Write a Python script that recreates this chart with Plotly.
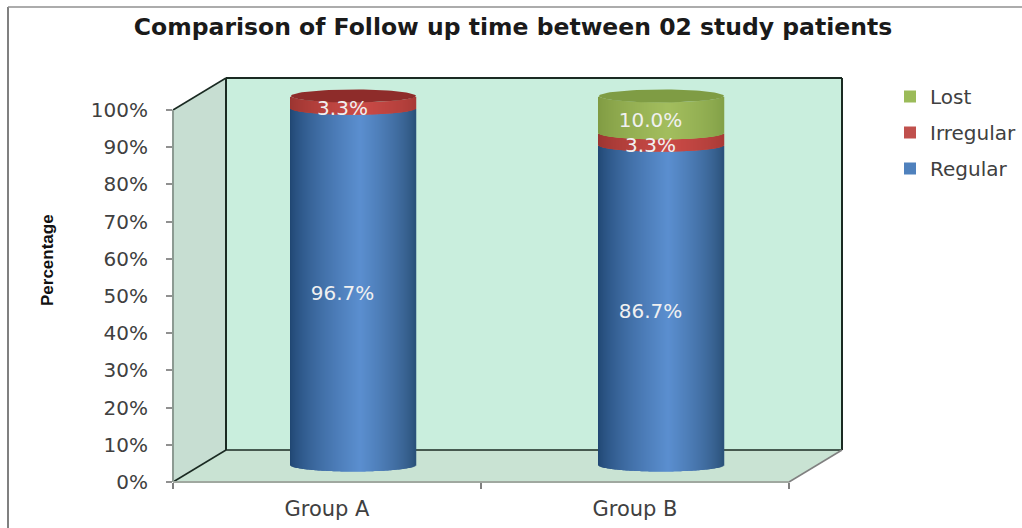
import numpy as np
import plotly.graph_objects as go

# Chart data
groups = ["Group A", "Group B"]
regular = [96.7, 86.7]
irregular = [3.3, 3.3]
lost = [0.0, 10.0]
tick_values = [0, 10, 20, 30, 40, 50, 60, 70, 80, 90, 100]
title_text = "Comparison of Follow up time between 02 study patients"

series = [
    ("Regular", regular, "#4F81BD", "#1F4571", "#5B8FD0", "#2A5078"),
    ("Irregular", irregular, "#C0504D", "#9A3430", "#CB4B47", "#A83A36"),
    ("Lost", lost, "#9BBB59", "#7F9A42", "#A3BE5E", "#82A047"),
]
cap_colors = {"Regular": "#3A6A9E", "Irregular": "#8E2C2A", "Lost": "#7F9C44"}

# Pixel geometry of the plot box
W, H = 1022, 528
LEFT, RIGHT, TOP, BOTTOM = 173, 842, 78, 482
PX_PER_GROUP = 308
PX_PER_PCT = 3.72
DEPTH_X, DEPTH_Y = 53, 32

x_low = -0.5
x_high = x_low + (RIGHT - LEFT) / PX_PER_GROUP
y_low = 0.0
y_high = (BOTTOM - TOP) / PX_PER_PCT

# Cylinders sit on a scale shifted to mid-depth of the floor
CYL_PX_PER_PCT = 3.69
CYL_ZERO_PX = 465
CYL_SHIFT = 26.5 / PX_PER_GROUP
CYL_HALF_W = 62.5 / PX_PER_GROUP
CAP_HALF_H = 6.5 / CYL_PX_PER_PCT
LABEL_SHIFT = 11 / PX_PER_GROUP
LABEL_DROP = 1.5 / CYL_PX_PER_PCT
N_STRIPS = 125

u = np.linspace(-1, 1, N_STRIPS, endpoint=False) + 1 / N_STRIPS
arc = CAP_HALF_H * np.sqrt(np.clip(1 - u**2, 0, 1))


def hex_rgb(c):
    return np.array([int(c[i:i + 2], 16) for i in (1, 3, 5)], float)


def shade(left, mid, right, t):
    """Colour across the cylinder; t runs from -1 (left edge) to 1 (right edge)."""
    peak = 0.12
    if t < peak:
        k = ((t + 1) / (1 + peak)) ** 0.7
        c = hex_rgb(left) * (1 - k) + hex_rgb(mid) * k
    else:
        k = ((1 - t) / (1 - peak)) ** 0.7
        c = hex_rgb(right) * (1 - k) + hex_rgb(mid) * k
    return "rgb(%d,%d,%d)" % tuple(c)


fig = go.Figure()

# Cylinder bodies: vertical strips with curved ends, stacked from the values
totals = [0.0] * len(groups)
for name, values, legend_color, c_left, c_mid, c_right in series:
    xs, bases, heights, colors = [], [], [], []
    for g, v in enumerate(values):
        if v <= 0:
            continue
        for ui, ai in zip(u, arc):
            xs.append(g + ui * CYL_HALF_W)
            bases.append(totals[g] - ai)
            heights.append(v)
            colors.append(shade(c_left, c_mid, c_right, ui))
    fig.add_trace(go.Bar(
        x=xs, y=heights, base=bases, width=2 * CYL_HALF_W / N_STRIPS * 1.5,
        marker=dict(color=colors, line=dict(width=0)),
        xaxis="x2", yaxis="y2", showlegend=False, hoverinfo="skip",
    ))
    totals = [t + v for t, v in zip(totals, values)]

# Top caps
theta = np.linspace(0, 2 * np.pi, 90)
for g, total in enumerate(totals):
    top_series = [s[0] for s in series if s[1][g] > 0][-1]
    fig.add_trace(go.Scatter(
        x=g + CYL_HALF_W * np.cos(theta),
        y=total + CAP_HALF_H * np.sin(theta),
        mode="lines", fill="toself", fillcolor=cap_colors[top_series],
        line=dict(width=0, color=cap_colors[top_series]),
        xaxis="x2", yaxis="y2", showlegend=False, hoverinfo="skip",
    ))

# Value labels at the centre of each segment's front face
label_x, label_y, label_text = [], [], []
running = [0.0] * len(groups)
for name, values, *_ in series:
    for g, v in enumerate(values):
        if v > 0:
            label_x.append(g - LABEL_SHIFT)
            label_y.append(running[g] + v / 2 - CAP_HALF_H - LABEL_DROP)
            label_text.append(f"{v:.1f}%")
        running[g] += v
fig.add_trace(go.Scatter(
    x=label_x, y=label_y, text=label_text, mode="text",
    textposition="middle center",
    textfont=dict(family="DejaVu Sans", size=20, color="#F0F0F0"),
    xaxis="x2", yaxis="y2", showlegend=False, hoverinfo="skip",
))

# Legend entries, listed top to bottom
for name, values, legend_color, *_ in reversed(series):
    fig.add_trace(go.Bar(
        x=[None], y=[None], name=name, legendgroup=name,
        marker=dict(color=legend_color, line=dict(width=0)),
    ))


def px_x(p):
    return (p - LEFT) / (RIGHT - LEFT)


def px_y(p):
    return (BOTTOM - p) / (BOTTOM - TOP)


def poly(points, fill):
    path = "M" + " L".join(f"{px_x(a):.5f},{px_y(b):.5f}" for a, b in points) + " Z"
    return dict(type="path", xref="paper", yref="paper", path=path,
                fillcolor=fill, line=dict(width=0), layer="below")


def seg(a, b, c, d, color, width=2):
    return dict(type="line", xref="paper", yref="paper", layer="below",
                x0=px_x(a), y0=px_y(b), x1=px_x(c), y1=px_y(d),
                line=dict(color=color, width=width))


FRONT_TOP = BOTTOM - 100 * PX_PER_PCT
BACK_L, BACK_B = LEFT + DEPTH_X, BOTTOM - DEPTH_Y
FRONT_R = RIGHT - DEPTH_X

shapes = [
    # Walls and floor
    poly([(BACK_L, TOP), (RIGHT, TOP), (RIGHT, BACK_B), (BACK_L, BACK_B)], "#C9EEDD"),
    poly([(LEFT, FRONT_TOP), (BACK_L, TOP), (BACK_L, BACK_B), (LEFT, BOTTOM)], "#C7DED2"),
    poly([(LEFT, BOTTOM), (BACK_L, BACK_B), (RIGHT, BACK_B), (FRONT_R, BOTTOM)], "#C9E3D3"),
    # Box edges
    seg(BACK_L, TOP, RIGHT, TOP, "#1A2A22"),
    seg(RIGHT, TOP, RIGHT, BACK_B, "#1A2A22"),
    seg(BACK_L, TOP, BACK_L, BACK_B, "#1A2A22"),
    seg(BACK_L, BACK_B, RIGHT, BACK_B, "#1A2A22", 1.5),
    seg(LEFT, FRONT_TOP, BACK_L, TOP, "#1A2A22", 1.5),
    seg(LEFT, BOTTOM, BACK_L, BACK_B, "#1A2A22", 1.5),
    seg(RIGHT, BACK_B, FRONT_R, BOTTOM, "#808080", 1.5),
    seg(LEFT, FRONT_TOP, LEFT, BOTTOM, "#8C9A92"),
    seg(LEFT, BOTTOM, FRONT_R, BOTTOM, "#A0A8A0", 2),
    # Outer chart frame
    seg(8, 7, 8, H, "#808080", 2),
    seg(8, 7, W, 7, "#909090", 1.5),
]

fig.update_layout(
    width=W, height=H, autosize=False,
    margin=dict(l=LEFT, r=W - RIGHT, t=TOP, b=H - BOTTOM, pad=0, autoexpand=False),
    paper_bgcolor="white", plot_bgcolor="rgba(0,0,0,0)",
    barmode="overlay",
    shapes=shapes,
    font=dict(family="DejaVu Sans", color="#404040"),
    title=dict(
        text=f"<b>{title_text}</b>", x=513 / W, xanchor="center", y=1 - 27 / H,
        yanchor="middle", font=dict(family="DejaVu Sans", size=23.5, color="#1A1A1A"),
    ),
    xaxis=dict(
        range=[x_low, x_high], tickvals=[0, 1], ticktext=groups, ticks="",
        showgrid=False, zeroline=False, showline=False,
        tickfont=dict(size=21, color="#404040"), ticklabelstandoff=12,
        minor=dict(tickvals=[-0.5, 0.5, 1.5], ticks="outside", ticklen=6,
                   tickcolor="#808080", tickwidth=1.5),
    ),
    yaxis=dict(
        range=[y_low, y_high], tickvals=tick_values,
        ticktext=[f"{v}%" for v in tick_values], ticks="outside", ticklen=6,
        tickcolor="#909090", tickwidth=1.5, showgrid=False, zeroline=False,
        showline=False, tickfont=dict(size=20, color="#404040"),
        ticklabelstandoff=14,
    ),
    xaxis2=dict(range=[x_low - CYL_SHIFT, x_high - CYL_SHIFT], overlaying="x",
                visible=False, anchor="y2"),
    yaxis2=dict(range=[(CYL_ZERO_PX - BOTTOM) / CYL_PX_PER_PCT,
                       (CYL_ZERO_PX - TOP) / CYL_PX_PER_PCT],
                overlaying="y", visible=False, anchor="x2"),
    legend=dict(
        x=px_x(890), xanchor="left", y=px_y(77), yanchor="top",
        traceorder="grouped", tracegroupgap=7,
        font=dict(family="DejaVu Sans", size=20, color="#404040"),
        bgcolor="rgba(0,0,0,0)", itemwidth=30,
    ),
    annotations=[dict(
        text="<b>Percentage</b>", textangle=-90, showarrow=False,
        xref="paper", yref="paper", x=px_x(47), y=px_y(260),
        xanchor="center", yanchor="middle",
        font=dict(family="Liberation Sans", size=17, color="#111111"),
    )],
)

fig.write_html("out.html")
